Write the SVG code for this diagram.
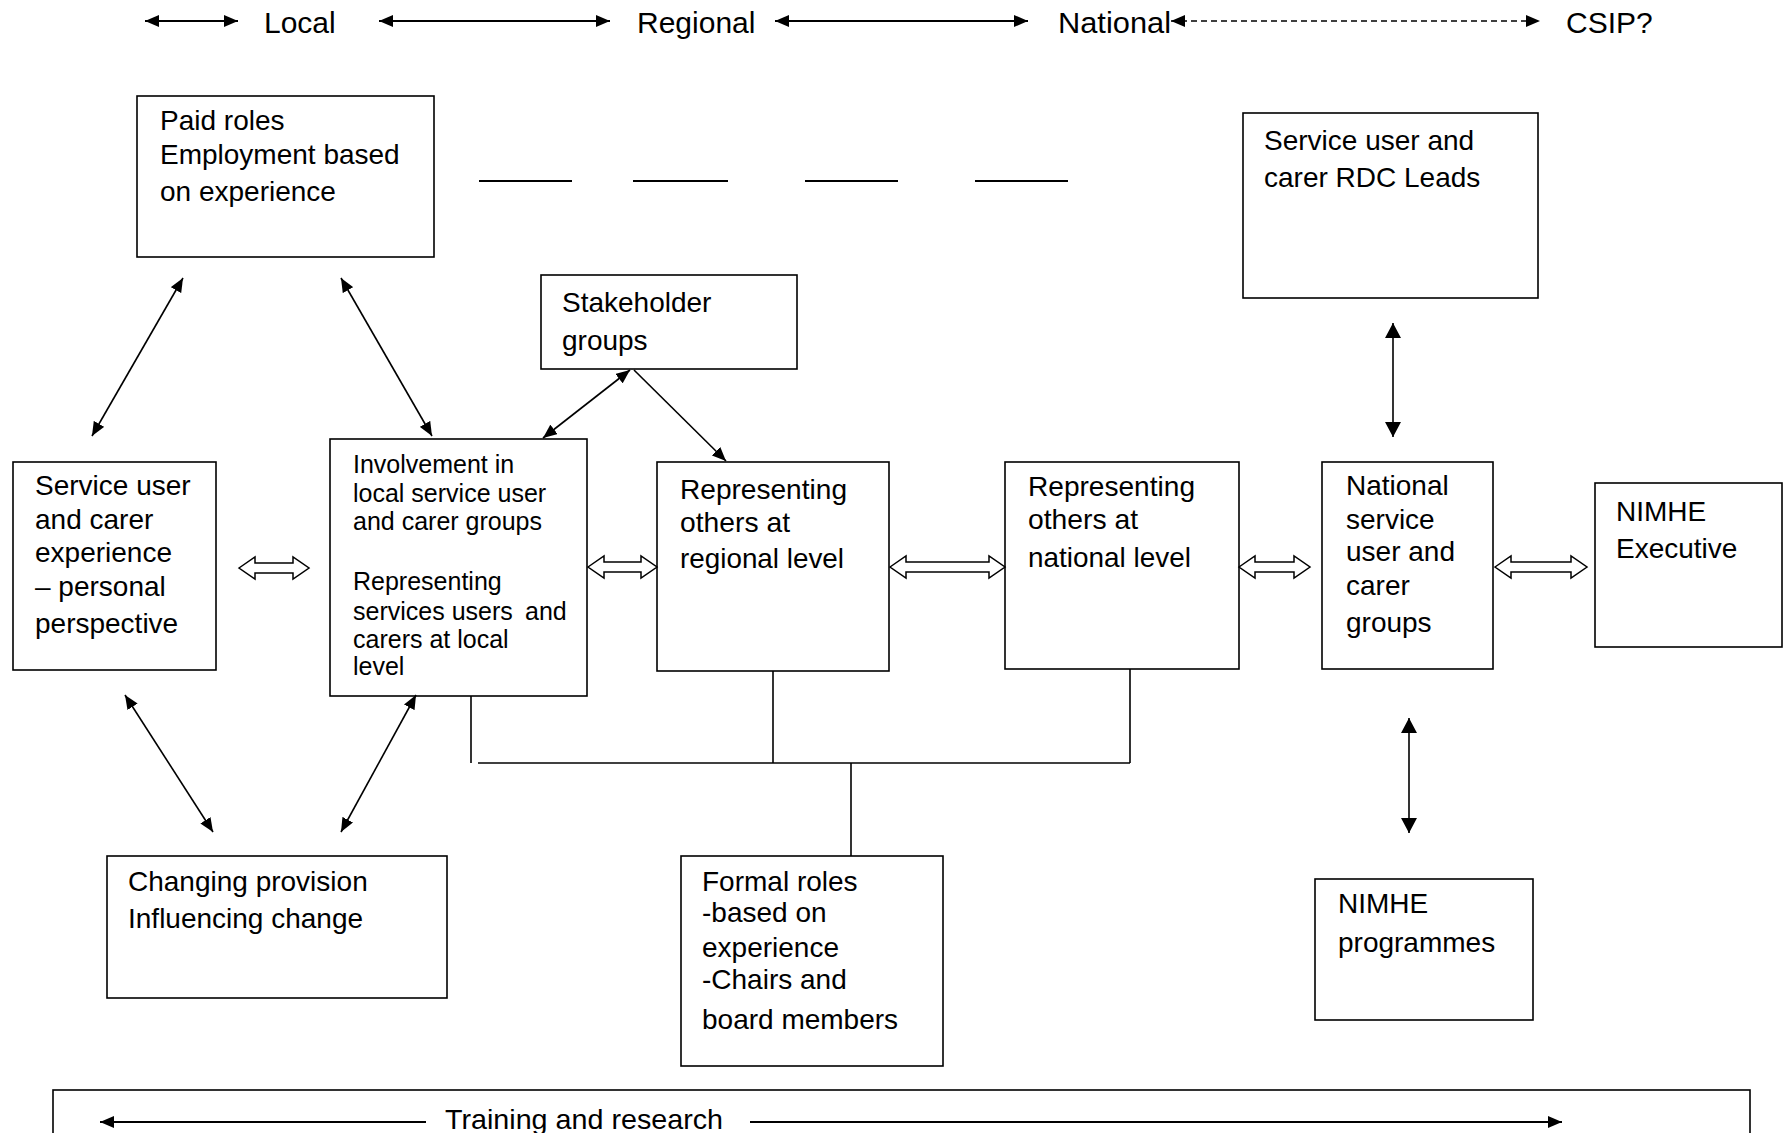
<svg xmlns="http://www.w3.org/2000/svg" width="1789" height="1133" viewBox="0 0 1789 1133">
<style>
text{font-family:"Liberation Sans",Arial,sans-serif;fill:#000}
.t28{font-size:28px}
.t30{font-size:30px}
.t25{font-size:25px}
.box{fill:#fff;stroke:#000;stroke-width:1.6}
.ln{fill:none;stroke:#000;stroke-width:1.6}
.hd{fill:none;stroke:#000;stroke-width:2}
.hol{fill:#fff;stroke:#000;stroke-width:1.5;stroke-linejoin:miter}
</style>
<defs>
<marker id="ah" viewBox="0 0 14 12" refX="14" refY="6" markerWidth="14" markerHeight="12" orient="auto-start-reverse" markerUnits="userSpaceOnUse"><path d="M0,0 L14,6 L0,12 z" fill="#000"/></marker>
<marker id="av" viewBox="0 0 15 16" refX="15" refY="8" markerWidth="15" markerHeight="16" orient="auto-start-reverse" markerUnits="userSpaceOnUse"><path d="M0,0 L15,8 L0,16 z" fill="#000"/></marker>
</defs>

<g id="scale">
<text class="t30" x="264" y="33">Local</text>
<text class="t30" x="637" y="33">Regional</text>
<text class="t30" x="1058" y="33" textLength="113" lengthAdjust="spacingAndGlyphs">National</text>
<text class="t30" x="1566" y="33">CSIP?</text>
</g>

<g id="paid-roles"><rect class="box" x="137" y="96" width="297" height="161"/>
<text class="t28" x="160" y="130">Paid roles</text>
<text class="t28" x="160" y="164">Employment based</text>
<text class="t28" x="160" y="201">on experience</text></g>

<g id="rdc-leads"><rect class="box" x="1243" y="113" width="295" height="185"/>
<text class="t28" x="1264" y="150">Service user and</text>
<text class="t28" x="1264" y="187">carer RDC Leads</text></g>

<g id="stakeholder"><rect class="box" x="541" y="275" width="256" height="94"/>
<text class="t28" x="562" y="312">Stakeholder</text>
<text class="t28" x="562" y="350">groups</text></g>

<g id="experience"><rect class="box" x="13" y="462" width="203" height="208"/>
<text class="t28" x="35" y="495">Service user</text>
<text class="t28" x="35" y="529">and carer</text>
<text class="t28" x="35" y="562">experience</text>
<text class="t28" x="35" y="596">– personal</text>
<text class="t28" x="35" y="633">perspective</text></g>

<g id="involvement"><rect class="box" x="330" y="439" width="257" height="257"/>
<text class="t25" x="353" y="473">Involvement in</text>
<text class="t25" x="353" y="502">local service user</text>
<text class="t25" x="353" y="530">and carer groups</text>
<text class="t25" x="353" y="590">Representing</text>
<text class="t25" x="353" y="620">services users <tspan x="525">and</tspan></text>
<text class="t25" x="353" y="648">carers at local</text>
<text class="t25" x="353" y="675">level</text></g>

<g id="regional"><rect class="box" x="657" y="462" width="232" height="209"/>
<text class="t28" x="680" y="499" textLength="167" lengthAdjust="spacingAndGlyphs">Representing</text>
<text class="t28" x="680" y="532" textLength="110" lengthAdjust="spacingAndGlyphs">others at</text>
<text class="t28" x="680" y="568" textLength="164" lengthAdjust="spacingAndGlyphs">regional level</text></g>

<g id="national"><rect class="box" x="1005" y="462" width="234" height="207"/>
<text class="t28" x="1028" y="496" textLength="167" lengthAdjust="spacingAndGlyphs">Representing</text>
<text class="t28" x="1028" y="529" textLength="110" lengthAdjust="spacingAndGlyphs">others at</text>
<text class="t28" x="1028" y="567" textLength="163" lengthAdjust="spacingAndGlyphs">national level</text></g>

<g id="national-groups"><rect class="box" x="1322" y="462" width="171" height="207"/>
<text class="t28" x="1346" y="495">National</text>
<text class="t28" x="1346" y="529">service</text>
<text class="t28" x="1346" y="561">user and</text>
<text class="t28" x="1346" y="595">carer</text>
<text class="t28" x="1346" y="632">groups</text></g>

<g id="nimhe-executive"><rect class="box" x="1595" y="483" width="187" height="164"/>
<text class="t28" x="1616" y="521">NIMHE</text>
<text class="t28" x="1616" y="558">Executive</text></g>

<g id="nimhe-programmes"><rect class="box" x="1315" y="879" width="218" height="141"/>
<text class="t28" x="1338" y="913">NIMHE</text>
<text class="t28" x="1338" y="952">programmes</text></g>

<g id="changing"><rect class="box" x="107" y="856" width="340" height="142"/>
<text class="t28" x="128" y="891">Changing provision</text>
<text class="t28" x="128" y="928">Influencing change</text></g>

<g id="formal"><rect class="box" x="681" y="856" width="262" height="210"/>
<text class="t28" x="702" y="891">Formal roles</text>
<text class="t28" x="702" y="922">-based on</text>
<text class="t28" x="702" y="957">experience</text>
<text class="t28" x="702" y="989">-Chairs and</text>
<text class="t28" x="702" y="1029">board members</text></g>

<g id="training"><rect class="box" x="53" y="1090" width="1697" height="80"/>
<text class="t28" x="445" y="1129" textLength="278" lengthAdjust="spacingAndGlyphs">Training and research</text></g>

<g id="connectors">
<line class="hd" x1="145" y1="21" x2="238" y2="21" marker-start="url(#ah)" marker-end="url(#ah)"/>
<line class="hd" x1="379" y1="21" x2="610" y2="21" marker-start="url(#ah)" marker-end="url(#ah)"/>
<line class="hd" x1="775" y1="21" x2="1028" y2="21" marker-start="url(#ah)" marker-end="url(#ah)"/>
<line class="ln" x1="1171" y1="21" x2="1540" y2="21" stroke-dasharray="6,4" marker-start="url(#ah)" marker-end="url(#ah)"/>

<line class="hd" x1="479" y1="181" x2="572" y2="181"/>
<line class="hd" x1="633" y1="181" x2="728" y2="181"/>
<line class="hd" x1="805" y1="181" x2="898" y2="181"/>
<line class="hd" x1="975" y1="181" x2="1068" y2="181"/>

<line class="ln" x1="183" y1="278" x2="92" y2="436" marker-start="url(#ah)" marker-end="url(#ah)"/>
<line class="ln" x1="341" y1="278" x2="432" y2="436" marker-start="url(#ah)" marker-end="url(#ah)"/>
<line class="ln" x1="630" y1="370" x2="543" y2="438" marker-start="url(#ah)" marker-end="url(#ah)"/>
<line class="ln" x1="634" y1="370" x2="726" y2="461" marker-end="url(#ah)"/>
<line class="ln" x1="125" y1="695" x2="213" y2="832" marker-start="url(#ah)" marker-end="url(#ah)"/>
<line class="ln" x1="416" y1="695" x2="341" y2="832" marker-start="url(#ah)" marker-end="url(#ah)"/>

<line class="ln" x1="1393" y1="323" x2="1393" y2="437" marker-start="url(#av)" marker-end="url(#av)"/>
<line class="ln" x1="1409" y1="718" x2="1409" y2="833" marker-start="url(#av)" marker-end="url(#av)"/>

<path class="hol" d="M239,568 L255,557 L255,563 L293,563 L293,557 L309,568 L293,579 L293,573 L255,573 L255,579 Z"/>
<path class="hol" d="M588,567 L604,556 L604,562 L641,562 L641,556 L657,567 L641,578 L641,572 L604,572 L604,578 Z"/>
<path class="hol" d="M890,567 L906,556 L906,562 L989,562 L989,556 L1005,567 L989,578 L989,572 L906,572 L906,578 Z"/>
<path class="hol" d="M1239,567 L1255,556 L1255,562 L1294,562 L1294,556 L1310,567 L1294,578 L1294,572 L1255,572 L1255,578 Z"/>
<path class="hol" d="M1495,567 L1511,556 L1511,562 L1571,562 L1571,556 L1587,567 L1571,578 L1571,572 L1511,572 L1511,578 Z"/>

<line class="ln" x1="471" y1="696" x2="471" y2="763"/>
<line class="ln" x1="478" y1="763" x2="1130" y2="763"/>
<line class="ln" x1="773" y1="671" x2="773" y2="763"/>
<line class="ln" x1="1130" y1="669" x2="1130" y2="763"/>
<line class="ln" x1="851" y1="763" x2="851" y2="856"/>

<line class="hd" x1="100" y1="1122" x2="426" y2="1122" marker-start="url(#ah)"/>
<line class="hd" x1="750" y1="1122" x2="1562" y2="1122" marker-end="url(#ah)"/>
</g>
</svg>
